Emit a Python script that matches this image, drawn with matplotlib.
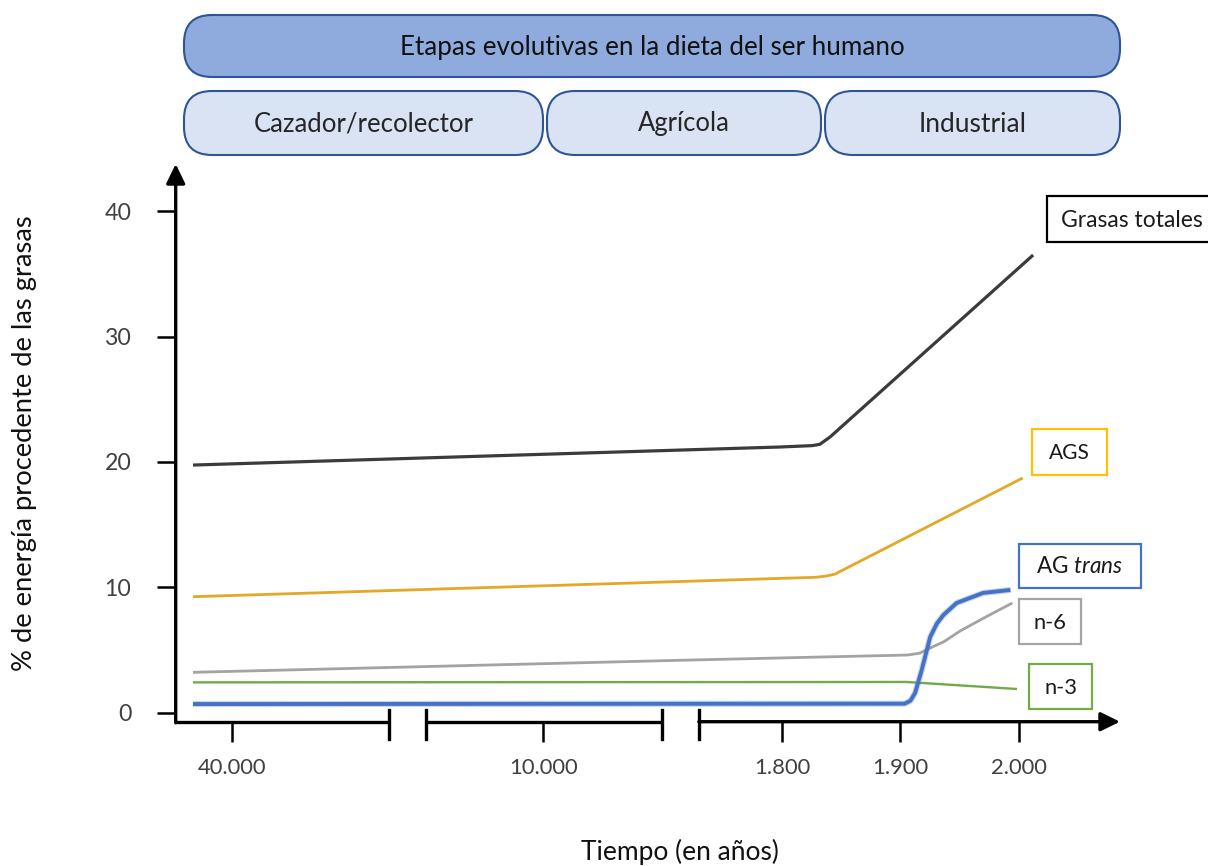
import matplotlib
matplotlib.use("Agg")
import matplotlib.pyplot as plt
import matplotlib.transforms as mtransforms
from matplotlib.patches import FancyBboxPatch, Rectangle

plt.rcParams['font.family'] = ['Lato', 'DejaVu Sans']
plt.rcParams['mathtext.fontset'] = 'custom'
plt.rcParams['mathtext.rm'] = 'Lato'
plt.rcParams['mathtext.it'] = 'Lato:italic'

# ---------------- data (schematic positions along the broken time axis) ----------------
x_tick_pos = [5.93, 38.9, 64.2, 76.7, 89.3]
x_tick_labels = ['40.000', '10.000', '1.800', '1.900', '2.000']
y_ticks = [0, 10, 20, 30, 40]

total_x = [1.83, 64.0, 67.4, 68.2, 69.3, 90.8]
total_y = [19.75, 21.19, 21.3, 21.4, 21.99, 36.5]

ags_x = [1.83, 67.8, 68.9, 69.8, 89.7]
ags_y = [9.25, 10.8, 10.9, 11.05, 18.72]

n6_x = [1.83, 54.5, 77.5, 78.8, 79.9, 81.3, 83.1, 85.7, 88.6]
n6_y = [3.22, 4.2, 4.6, 4.75, 5.16, 5.64, 6.53, 7.6, 8.75]

n3_x = [1.83, 77.4, 89.1]
n3_y = [2.42, 2.45, 1.89]

trans_x = [1.83, 77.2, 77.8, 78.3, 79.0, 79.9, 80.6, 81.3, 82.7, 85.5, 88.4]
trans_y = [0.69, 0.72, 0.95, 1.57, 3.4, 6.04, 7.1, 7.79, 8.75, 9.55, 9.79]

axis_segments = [(0, 22.6), (26.5, 51.5), (55.4, 100)]

stages = ['Cazador/recolector', 'Agrícola', 'Industrial']
title = 'Etapas evolutivas en la dieta del ser humano'

series_labels = ['Grasas totales', 'AGS', 'AG $\\mathit{trans}$', 'n-6', 'n-3']

# ---------------- figure ----------------
W, H = 1208, 866
fig = plt.figure(figsize=(W / 100, H / 100), dpi=100)

x0_px, x1_px = 175.7, 1120.0
yb_px, yt_px = 721.7, 164.0
ax = fig.add_axes([x0_px / W, 1 - yb_px / H, (x1_px - x0_px) / W, (yb_px - yt_px) / H])
ax.set_xlim(0, 100)
ax.set_ylim(-0.718, 43.76)
for s in ax.spines.values():
    s.set_visible(False)

# lines
ax.plot(total_x, total_y, color='#3b3b3b', lw=2.3, solid_capstyle='butt', solid_joinstyle='round')
ax.plot(ags_x, ags_y, color='#e3a826', lw=2.0, solid_capstyle='butt', solid_joinstyle='round')
ax.plot(n6_x, n6_y, color='#a3a3a3', lw=2.0, solid_capstyle='butt', solid_joinstyle='round')
ax.plot(n3_x, n3_y, color='#6fab4a', lw=1.7, solid_capstyle='butt', solid_joinstyle='round')
ax.plot(trans_x, trans_y, color='#4472c4', lw=4.4, alpha=0.3, solid_capstyle='butt', solid_joinstyle='round')
ax.plot(trans_x, trans_y, color='#4472c4', lw=2.8, solid_capstyle='butt', solid_joinstyle='round')

# y axis with arrow
ax.annotate('', xy=(0, 1), xytext=(0, -0.002), xycoords='axes fraction',
            arrowprops=dict(arrowstyle='-|>,head_length=0.45,head_width=0.22', lw=2.4,
                            color='black', mutation_scale=26, shrinkA=0, shrinkB=0))

# broken x axis
trans_b = mtransforms.blended_transform_factory(ax.transData, ax.transAxes)
cap_lo, cap_hi = -0.031, 0.021
for i, (a, b) in enumerate(axis_segments):
    if i < len(axis_segments) - 1:
        ax.plot([a, b], [0, 0], transform=trans_b, color='black', lw=2.4, clip_on=False,
                solid_capstyle='butt')
    else:
        ax.annotate('', xy=(b, 0), xytext=(a, 0), xycoords=trans_b,
                    arrowprops=dict(arrowstyle='-|>,head_length=0.45,head_width=0.22', lw=2.4,
                                    color='black', mutation_scale=26, shrinkA=0, shrinkB=0))
    if i > 0:
        ax.plot([a, a], [cap_lo, cap_hi], transform=trans_b, color='black', lw=2.4, clip_on=False)
    if i < len(axis_segments) - 1:
        ax.plot([b, b], [cap_lo, cap_hi], transform=trans_b, color='black', lw=2.4, clip_on=False)

ax.set_xticks(x_tick_pos)
ax.set_xticklabels(x_tick_labels)
ax.set_yticks(y_ticks)
ax.set_yticklabels([str(v) for v in y_ticks])
ax.tick_params(axis='x', direction='out', length=14.4, width=1.8, pad=12, labelsize=18.5,
               labelcolor='#404040', color='black')
ax.tick_params(axis='y', direction='out', length=14.0, width=1.8, pad=18, labelsize=18.5,
               labelcolor='#404040', color='black')

# axis titles
yl = fig.text(25 / W, 1 - 443 / H, '% de energía procedente de las grasas', rotation=90,
              ha='center', va='center', fontsize=18, color='#111111')
xl = fig.text(680 / W, 1 - 852 / H, 'Tiempo (en años)', ha='center', va='center',
              fontsize=18, color='#111111')

# ---------------- overlay (pixel coordinates) for boxes ----------------
ov = fig.add_axes([0, 0, 1, 1], zorder=5)
ov.set_xlim(0, W)
ov.set_ylim(H, 0)
ov.axis('off')
ov.patch.set_alpha(0)

edge_dark = '#2f5597'
ov.add_patch(FancyBboxPatch((184, 15), 936, 62, boxstyle='round,pad=0,rounding_size=28',
                            fc='#8faadc', ec=edge_dark, lw=1.5))
texts = []
texts.append((ov.text(652, 47, title, ha='center', va='center', color='#111111', fontsize=20), 504, 'w'))

stage_boxes = [(184, 359), (547, 274), (825, 295)]
stage_widths = [221, 92, 108]
for (bx, bw), lab, tw in zip(stage_boxes, stages, stage_widths):
    ov.add_patch(FancyBboxPatch((bx, 91), bw, 64, boxstyle='round,pad=0,rounding_size=28',
                                fc='#dae3f3', ec=edge_dark, lw=1.5))
    texts.append((ov.text(bx + bw / 2, 124, lab, ha='center', va='center', color='#262626',
                          fontsize=18), tw, 'w'))

# series label boxes
lab_boxes = [(1046.7, 196, 200, 46.3, '#000000'),
             (1032.3, 429, 74.4, 46, '#ffc000'),
             (1019, 544, 121.7, 43.7, '#4472c4'),
             (1019, 599, 62, 45.3, '#a5a5a5'),
             (1029, 664.3, 63.3, 44.7, '#70ad47')]
lab_text_w = [142, 41, 87, 33, 33]
for (bx, by, bw, bh, ec), lab, tw in zip(lab_boxes, series_labels, lab_text_w):
    ov.add_patch(Rectangle((bx, by), bw, bh, fc='white', ec=ec, lw=1.6))
    if lab == 'Grasas totales':
        t = ov.text(1061, by + bh / 2 + 1, lab, ha='left', va='center', color='#1a1a1a', fontsize=15)
    else:
        t = ov.text(bx + bw / 2, by + bh / 2 + 1, lab, ha='center', va='center', color='#1a1a1a',
                    fontsize=15)
    texts.append((t, tw, 'w'))

texts.append((xl, 198, 'w'))
texts.append((yl, 457, 'h'))

# fit text sizes to the reference
fig.canvas.draw()
r = fig.canvas.get_renderer()
for _ in range(3):
    for t, tw, d in texts:
        bb = t.get_window_extent(r)
        w = bb.width if d == 'w' else bb.height
        t.set_fontsize(t.get_fontsize() * tw / w)
    xt = ax.get_xticklabels()[0]
    fx = 69.0 / xt.get_window_extent(r).width
    yt = ax.get_yticklabels()[-1]
    fy = 27.0 / yt.get_window_extent(r).width
    ax.tick_params(axis='x', labelsize=xt.get_fontsize() * fx)
    ax.tick_params(axis='y', labelsize=yt.get_fontsize() * fy)
    fig.canvas.draw()

fig.savefig('out.png', dpi=100, facecolor='white')
